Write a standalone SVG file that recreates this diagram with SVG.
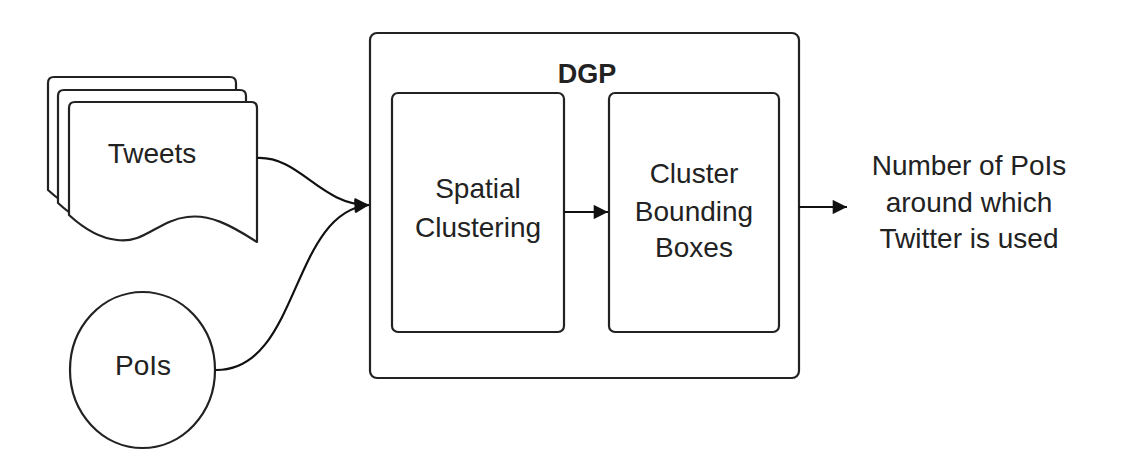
<svg xmlns="http://www.w3.org/2000/svg" width="1146" height="470" viewBox="0 0 1146 470">
<defs>
<style>
.s{fill:#fff;stroke:#222;stroke-width:2.2;stroke-linejoin:round}
.t{font-family:"Liberation Sans",Arial,sans-serif;font-size:28px;fill:#222;text-anchor:middle}
.b{font-weight:bold;font-size:27px}
.c{fill:none;stroke:#111;stroke-width:2.2}
</style>
<marker id="ah" viewBox="0 0 10 10" refX="10" refY="5" markerWidth="7" markerHeight="6.5" markerUnits="strokeWidth" orient="auto">
<path d="M0,0 L10,5 L0,10 z" fill="#111"/>
</marker>
<path id="doc" d="M0,100 L0,6 Q0,0 6,0 L182,0 Q188,0 188,6 L188,140 C160,122 140,112 118,115 C90,118 75,142 48,138 C28,136 12,124 0,113 Z"/>
</defs>
<rect width="1146" height="470" fill="#fff"/>
<g id="tweets">
<use href="#doc" class="s" transform="translate(48,77)"/>
<use href="#doc" class="s" transform="translate(58,90)"/>
<use href="#doc" class="s" transform="translate(69,102)"/>
<text class="t" x="152" y="163">Tweets</text>
</g>
<g id="pois">
<ellipse class="s" cx="142.5" cy="370" rx="72.5" ry="78"/>
<text class="t" x="143" y="375">PoIs</text>
</g>
<g id="dgp">
<rect class="s" x="370" y="33" width="429" height="345" rx="7"/>
<text class="t b" x="587" y="83">DGP</text>
</g>
<g id="spatial">
<rect class="s" x="392" y="93" width="172" height="239" rx="6"/>
<text class="t" x="478" y="198">Spatial</text>
<text class="t" x="478" y="237">Clustering</text>
</g>
<g id="cluster">
<rect class="s" x="609" y="93" width="170" height="239" rx="6"/>
<text class="t" x="694" y="183">Cluster</text>
<text class="t" x="694" y="221">Bounding</text>
<text class="t" x="694" y="257">Boxes</text>
</g>
<g id="output">
<text class="t" x="969" y="175">Number of PoIs</text>
<text class="t" x="969" y="212">around which</text>
<text class="t" x="969" y="248">Twitter is used</text>
</g>
<g id="connectors">
<path class="c" d="M257,158 C300,156 320,205 369,205" marker-end="url(#ah)"/>
<path class="c" d="M215,370 C300,372 290,212 369,205" marker-end="url(#ah)"/>
<path class="c" d="M564,212 L608,212" marker-end="url(#ah)"/>
<path class="c" d="M799,207 L847,207" marker-end="url(#ah)"/>
</g>
</svg>
